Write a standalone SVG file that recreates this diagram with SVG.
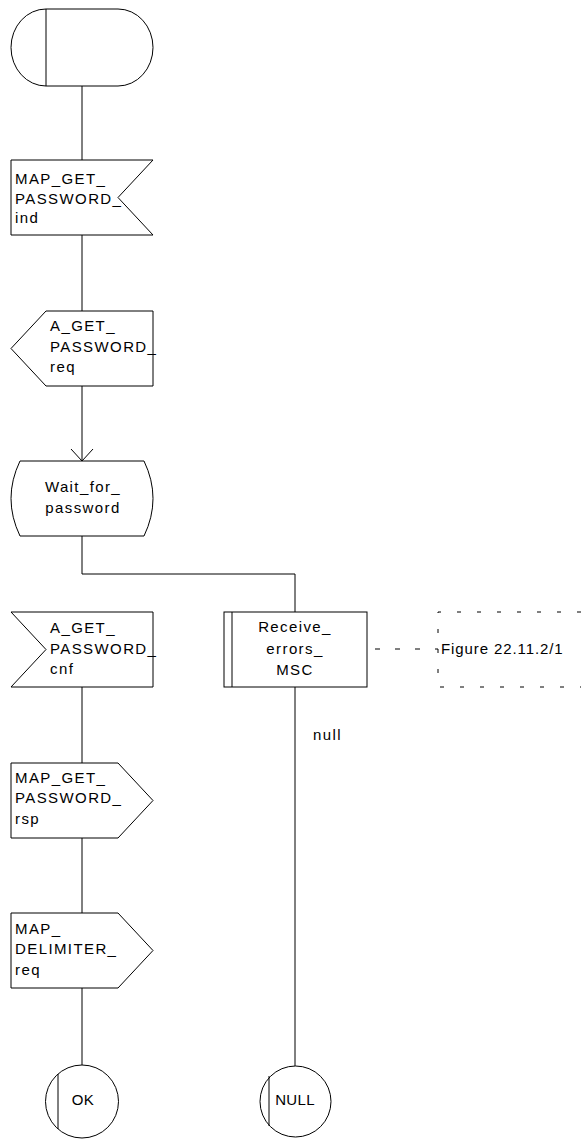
<svg xmlns="http://www.w3.org/2000/svg" width="581" height="1140" viewBox="0 0 581 1140">
<style>
.s{fill:#fff;stroke:#000;stroke-width:1}
.l{fill:none;stroke:#000;stroke-width:1}
.d{fill:none;stroke:#000;stroke-width:1;stroke-dasharray:5 15}
.t{font-family:"Liberation Sans",Arial,sans-serif;font-size:15px;letter-spacing:1.4px;fill:#000}
.c{text-anchor:middle}
</style>
<rect width="581" height="1140" fill="#fff"/>
<g id="connectors">
<line class="l" x1="82" y1="86" x2="82" y2="160"/>
<line class="l" x1="82" y1="235" x2="82" y2="311"/>
<line class="l" x1="82" y1="386" x2="82" y2="461"/>
<polyline class="l" points="71,449 82,461 93,449"/>
<polyline class="l" points="82,536 82,574 295,574 295,612"/>
<line class="l" x1="82" y1="687" x2="82" y2="763"/>
<line class="l" x1="82" y1="838" x2="82" y2="913"/>
<line class="l" x1="82" y1="988" x2="82" y2="1065"/>
<line class="l" x1="295" y1="687" x2="295" y2="1066"/>
<line class="d" x1="375" y1="649" x2="438" y2="649"/>
<text class="t" x="313" y="740">null</text>
</g>
<g id="start">
<path class="s" d="M46,9 L118,9 A35,38.5 0 0 1 118,86 L46,86 A35,38.5 0 0 1 46,9 Z"/>
<line class="l" x1="46" y1="9" x2="46" y2="86"/>
</g>
<g id="map_get_password_ind">
<path class="s" d="M11,160 L153,160 L118,197.5 L153,235 L11,235 Z"/>
<text class="t" x="15" y="184">MAP_GET_</text>
<text class="t" x="15" y="203.5">PASSWORD_</text>
<text class="t" x="15" y="223">ind</text>
</g>
<g id="a_get_password_req">
<path class="s" d="M46,311 L153,311 L153,386 L46,386 L11,348.5 Z"/>
<text class="t" x="50" y="331">A_GET_</text>
<text class="t" x="50" y="352">PASSWORD_</text>
<text class="t" x="50" y="372">req</text>
</g>
<g id="wait_for_password">
<path class="s" d="M20,461 L144,461 Q162,498.5 144,536 L20,536 Q2,498.5 20,461 Z"/>
<text class="t c" x="83" y="492">Wait_for_</text>
<text class="t c" x="83" y="513">password</text>
</g>
<g id="a_get_password_cnf">
<path class="s" d="M11,612 L153,612 L153,687 L11,687 L46,649.5 Z"/>
<text class="t" x="50" y="633">A_GET_</text>
<text class="t" x="50" y="654">PASSWORD_</text>
<text class="t" x="50" y="674">cnf</text>
</g>
<g id="receive_errors_msc">
<rect class="s" x="224" y="612" width="143" height="75"/>
<line class="l" x1="232" y1="612" x2="232" y2="687"/>
<text class="t c" x="295" y="632">Receive_</text>
<text class="t c" x="295" y="654">errors_</text>
<text class="t c" x="295" y="675">MSC</text>
</g>
<g id="comment">
<polyline fill="none" stroke="#000" stroke-width="1" stroke-dasharray="4 16" points="581,612 438,612 438,687 581,687"/>
<text class="t" x="441" y="654" style="letter-spacing:0.9px">Figure 22.11.2/1</text>
</g>
<g id="map_get_password_rsp">
<path class="s" d="M11,763 L118,763 L153,800.5 L118,838 L11,838 Z"/>
<text class="t" x="15" y="783">MAP_GET_</text>
<text class="t" x="15" y="803">PASSWORD_</text>
<text class="t" x="15" y="824">rsp</text>
</g>
<g id="map_delimiter_req">
<path class="s" d="M11,913 L118,913 L153,950.5 L118,988 L11,988 Z"/>
<text class="t" x="15" y="934">MAP_</text>
<text class="t" x="15" y="954">DELIMITER_</text>
<text class="t" x="15" y="975">req</text>
</g>
<g id="ok">
<circle class="s" cx="82" cy="1101.5" r="36.5"/>
<line class="l" x1="58" y1="1074" x2="58" y2="1129"/>
<text class="t c" x="83" y="1105" style="letter-spacing:0.5px">OK</text>
</g>
<g id="null">
<circle class="s" cx="295.5" cy="1101.5" r="35.5"/>
<line class="l" x1="269" y1="1076" x2="269" y2="1126"/>
<text class="t c" x="295" y="1105" style="letter-spacing:0.3px">NULL</text>
</g>
</svg>
